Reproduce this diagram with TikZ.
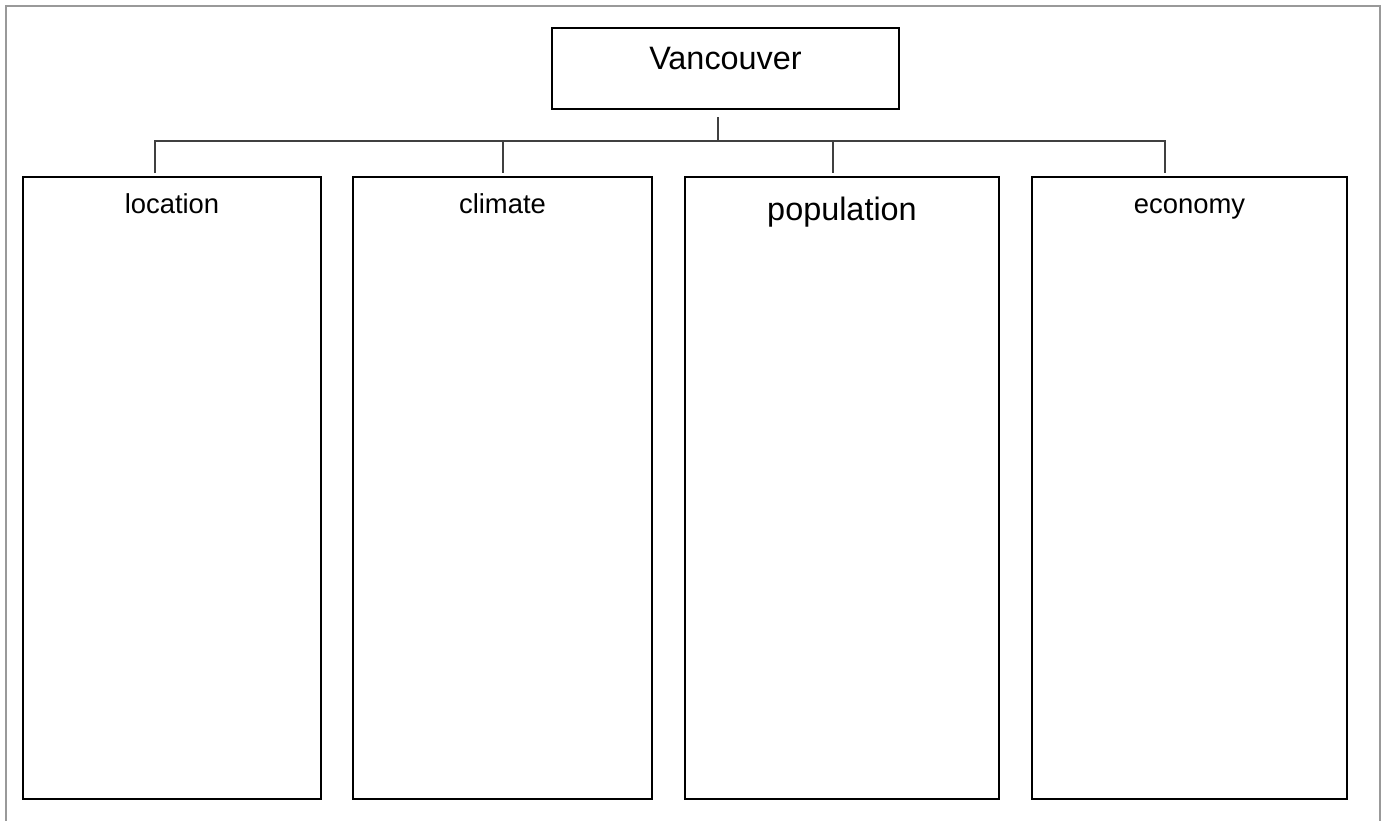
\documentclass[tikz,border=0pt]{standalone}
\usepackage{fontspec}
\setmainfont{Liberation Sans}
\usepackage{tikz}

\tikzset{
  box/.style={draw, rectangle, line width=1pt, outer sep=0pt, minimum height=311pt, anchor=north west},
  lbl/.style={anchor=base, font=\fontsize{13.7}{16}\selectfont},
  big/.style={font=\fontsize{16.2}{19}\selectfont},
  link/.style={line width=0.8pt, black!75},
}

\begin{document}
\begin{tikzpicture}[x=0.5pt, y=-0.5pt]
\clip (0,0) rectangle (1387,820);
\fill[white] (0,0) rectangle (1387,820);
\draw[line width=1.2pt, gray!80] (6,6) rectangle (1380,840);
% top box
\node[draw, rectangle, line width=1pt, outer sep=0pt, minimum width=173.5pt, minimum height=40.5pt, anchor=north west] (city) at (552,28) {};
\node[lbl, big] (cityt) at ([yshift=-20.5pt]city.north) {Vancouver};
% four columns
\node[box, minimum width=149pt] (loc) at (23,177) {};
\node[box, minimum width=149.5pt] (clim) at (353,177) {};
\node[box, minimum width=157pt] (pop) at (685,177) {};
\node[box, minimum width=157.5pt] (econ) at (1032,177) {};
\node[lbl] (loct) at ([yshift=-18pt]loc.north) {location};
\node[lbl] (climt) at ([yshift=-18pt]clim.north) {climate};
\node[lbl, big] (popt) at ([yshift=-21.5pt]pop.north) {population};
\node[lbl] (econt) at ([yshift=-18pt]econ.north) {economy};
% connectors
\coordinate (hub) at (718,141);
\coordinate (b1) at (155,141);
\coordinate (b2) at (503,141);
\coordinate (b3) at (833,141);
\coordinate (b4) at (1165,141);
\draw[link, shorten <=4pt] (hub |- city.south) -- (hub);
\draw[link, shorten <=2pt, shorten >=2pt] (b1 |- loc.north) -- (b1) -- (b4) -- (b4 |- econ.north);
\foreach \b/\n in {b2/clim, b3/pop}
  \draw[link, shorten >=2pt] (\b) -- (\b |- \n.north);
\end{tikzpicture}
\end{document}
